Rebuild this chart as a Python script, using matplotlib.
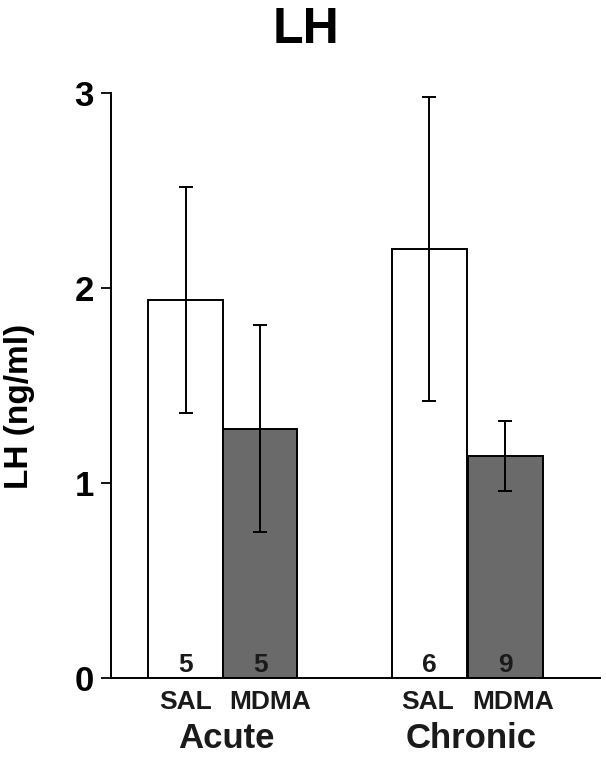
import matplotlib
matplotlib.use("Agg")
import matplotlib.pyplot as plt
import matplotlib.transforms as mtransforms

plt.rcParams['font.family'] = ['Liberation Sans', 'DejaVu Sans']
plt.rcParams['font.weight'] = 'bold'

# DATA
groups = ['Acute', 'Chronic']
treatments = ['SAL', 'MDMA', 'SAL', 'MDMA']
means = [1.94, 1.28, 2.20, 1.14]
sems = [0.58, 0.53, 0.78, 0.18]
counts = ['5', '5', '6', '9']
colors = ['white', '#6a6a6a', 'white', '#6a6a6a']
positions = [0, 1, 3.27, 4.29]

fig = plt.figure(figsize=(6.06, 7.61), dpi=100)
ax = fig.add_axes([0.1832, 0.1091, 0.807, 0.7683])

ax.bar(positions, means, width=1.0, color=colors, edgecolor='black',
       linewidth=1.4, zorder=2)
ax.errorbar(positions, means, yerr=sems, fmt='none', ecolor='black',
            elinewidth=1.4, capsize=4.7, capthick=1.4, zorder=3)

for x, c in zip(positions, counts):
    ax.text(x, 0.03, c, ha='center', va='baseline', fontsize=19,
            fontweight='bold', color='#1a1a1a', zorder=4)

ax.set_xlim(-1.0, 5.56)
ax.set_ylim(0, 3)
ax.set_yticks([0, 1, 2, 3])
ax.set_yticklabels(['0', '1', '2', '3'], fontsize=25, fontweight='bold')
ax.tick_params(axis='y', direction='out', length=7.2, width=1.3, pad=5)

# treatment labels: MDMA label sits a bit right of its bar
label_shift = [0.0, 0.14, -0.03, 0.1]
ax.set_xticks([p + s for p, s in zip(positions, label_shift)])
ax.set_xticklabels(treatments, fontsize=19, fontweight='bold', color='#1a1a1a')
ax.tick_params(axis='x', length=0, pad=9)

for s in ['top', 'right']:
    ax.spines[s].set_visible(False)
for s in ['left', 'bottom']:
    ax.spines[s].set_linewidth(1.4)

# group labels
trans = mtransforms.blended_transform_factory(ax.transData, ax.transAxes)
group_centers = [(positions[0] + positions[1]) / 2, (positions[2] + positions[3]) / 2]
for gx, g in zip(group_centers, groups):
    ax.text(gx + 0.05, -0.12, g, transform=trans, ha='center', va='baseline',
            fontsize=25, fontweight='bold', color='#1a1a1a')

ax.set_ylabel('LH (ng/ml)', fontsize=24, fontweight='bold')
ax.yaxis.set_label_coords(-0.155, 0.464)

fig.text(0.505, 0.943, 'LH', ha='center', va='baseline', fontsize=36,
         fontweight='bold')

fig.savefig('out.png', dpi=100)
